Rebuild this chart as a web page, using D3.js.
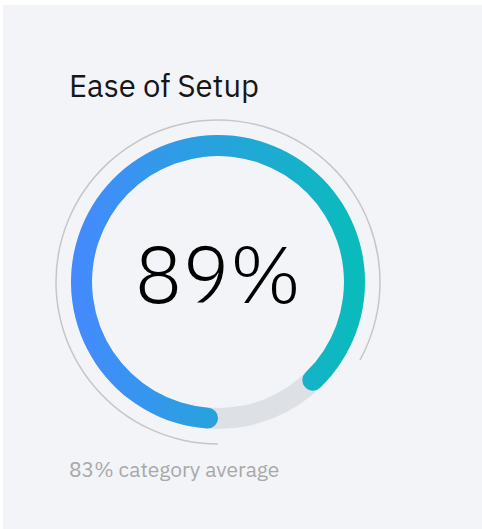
<!DOCTYPE html>
<html>
<head>
<meta charset="utf-8">
<script src="https://cdn.jsdelivr.net/npm/d3@7"></script>
<style>
  html, body { margin: 0; padding: 0; background: #ffffff; }
  svg { display: block; }
</style>
</head>
<body>
<svg id="chart" width="482" height="529"></svg>
<script>
// ---- data ----
const title = "Ease of Setup";
const score = [89];           // percent
const categoryAverage = [83]; // percent
const averageLabel = ["83% category average"];

// ---- layout ----
const W = 482, H = 529;
const cx = 218, cy = 282;
const svg = d3.select("#chart");

svg.append("rect").attr("x", 3).attr("y", 5).attr("width", W - 3).attr("height", H - 5)
  .attr("fill", "#f2f4f8");

const defs = svg.append("defs");
const grad = defs.append("linearGradient").attr("id", "g")
  .attr("gradientUnits", "userSpaceOnUse")
  .attr("x1", -147).attr("y1", 0).attr("x2", 147).attr("y2", 0);
grad.append("stop").attr("offset", "0%").attr("stop-color", "#4589ff");
grad.append("stop").attr("offset", "100%").attr("stop-color", "#08bdba");

const angle = d3.scaleLinear().domain([0, 100]).range([Math.PI, 3 * Math.PI]);

const g = svg.append("g").attr("transform", `translate(${cx},${cy})`);

// track
const track = d3.arc().innerRadius(126).outerRadius(147).startAngle(0).endAngle(2 * Math.PI);
g.append("path").attr("d", track()).attr("fill", "#dde1e6");

// progress
const prog = d3.arc().innerRadius(126).outerRadius(147).cornerRadius(10.5)
  .startAngle(angle(0)).endAngle(d => angle(d));
g.selectAll("path.prog").data(score).join("path").attr("class", "prog")
  .attr("d", prog).attr("fill", "url(#g)");

// category average thin arc
const avgArc = d3.arc().innerRadius(161.25).outerRadius(162.75)
  .startAngle(angle(0)).endAngle(d => angle(d));
g.selectAll("path.avg").data(categoryAverage).join("path").attr("class", "avg")
  .attr("d", avgArc).attr("fill", "#c6c6c6");

// texts
svg.append("text").attr("x", 69).attr("y", 97)
  .attr("font-family", "'IBM Plex Sans', 'Noto Sans', sans-serif")
  .attr("font-size", 31).attr("fill", "#161616").text(title);

g.selectAll("text.val").data(score).join("text").attr("class", "val")
  .attr("x", 0).attr("y", 21).attr("text-anchor", "middle")
  .attr("font-family", "'IBM Plex Sans', 'Open Sans', sans-serif")
  .attr("font-weight", 300)
  .attr("font-size", 79).attr("fill", "#000000").text(d => d + "%");

svg.selectAll("text.avgl").data(averageLabel).join("text").attr("class", "avgl")
  .attr("x", 69).attr("y", 477)
  .attr("font-family", "'IBM Plex Sans', 'Noto Sans', sans-serif")
  .attr("font-size", 21).attr("fill", "#a8a8a8").text(d => d);
</script>
</body>
</html>
